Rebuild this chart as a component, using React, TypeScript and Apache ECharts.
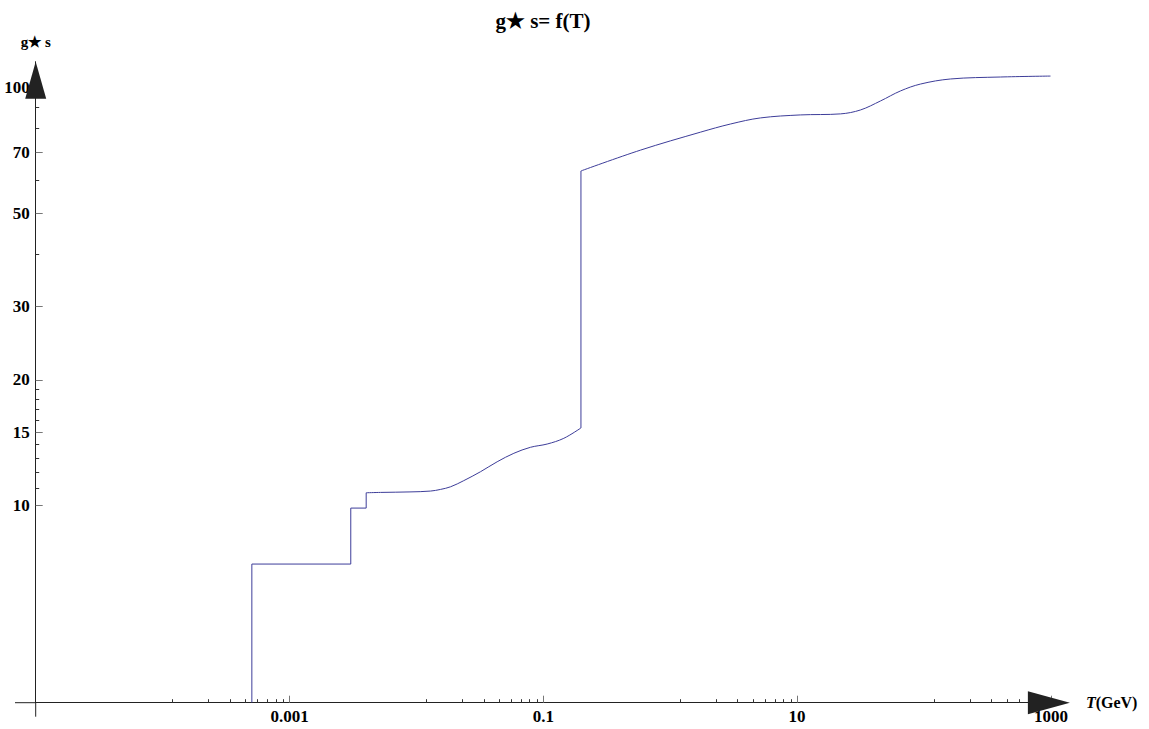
import { useEffect, useRef } from 'react';
import * as echarts from 'echarts';

// ---- texts ----
const chartTitle = 'g★ s= f(T)';
const yAxisName = 'g★ s';

// ---- axes ----
const xRange = [1e-5, 1000];
const yRange = [3.376, 115.6];
const xMajorTicks = [1e-3, 0.1, 10, 1000];
const xTickLabels = ['0.001', '0.1', '10', '1000'];
const xMinorFractions = [0.12, 0.23, 0.34, 0.45, 0.56, 0.67, 0.78, 0.9];
const yMajorTicks = [10, 15, 20, 30, 50, 70, 100];
const yTickLabels = ['10', '15', '20', '30', '50', '70', '100'];
const yMinorTicks = [11, 12, 13, 14, 16, 17, 18, 19, 40, 60, 80, 90];

// ---- data (T in GeV, g*s) ----
const stepT = [5.05e-4, 5.05e-4, 3.04e-3, 3.04e-3, 4.02e-3, 4.02e-3];
const stepG = [3.38, 7.25, 7.25, 9.87, 9.87, 10.74];
const lowT = [4.02e-3, 5.21e-3, 8.9e-3, 0.0129, 0.0155, 0.0186, 0.0236, 0.032, 0.0433, 0.0586, 0.0793, 0.1073, 0.1451, 0.198];
const lowG = [10.74, 10.76, 10.79, 10.84, 10.94, 11.1, 11.48, 12.06, 12.74, 13.35, 13.8, 14.05, 14.5, 15.35];
const jumpT = [0.198, 0.198];
const jumpG = [15.35, 63.3];
const highT = [0.198, 0.583, 1.733, 2.99, 5.15, 10.6, 22.0, 31.6, 45.4, 65.3, 93.8, 161.8, 401, 993];
const highG = [63.3, 71.0, 78.4, 82.0, 84.8, 86.2, 86.7, 88.6, 93.1, 98.4, 102.2, 105.1, 106.25, 106.8];

const W = 1149;
const H = 729;
const GRID_LEFT = 35.7;
const GRID_TOP = 61.7;
const GRID_W = 1015.2;
const GRID_H = 641;
const FONT = "'Liberation Serif', 'Times New Roman', Times, serif";
const LINE_COLOR = '#3d3d99';
const AXIS_COLOR = '#222';

const zip = (xs: number[], ys: number[]) => xs.map((x, i) => [x, ys[i]]);

export default function App() {
  const ref = useRef<HTMLDivElement>(null);
  useEffect(() => {
    if (!ref.current) return;
    const chart = echarts.init(ref.current, undefined, { renderer: 'svg' });
    const xMinor: number[] = [];
    xMajorTicks.forEach((m) => xMinorFractions.forEach((f) => xMinor.push(m * f)));
    const labelStyle = { fontFamily: FONT, fontWeight: 'bold' as const, fontSize: 17, color: '#000' };
    const baseX = {
      type: 'log' as const,
      logBase: 10,
      min: xRange[0],
      max: xRange[1],
      position: 'bottom' as const,
      splitLine: { show: false },
    };
    const baseY = {
      type: 'log' as const,
      logBase: 10,
      min: yRange[0],
      max: yRange[1],
      position: 'left' as const,
      splitLine: { show: false },
    };
    const lineSeries = (name: string, data: number[][], smooth: boolean) => ({
      name,
      type: 'line' as const,
      data,
      xAxisIndex: 0,
      yAxisIndex: 0,
      showSymbol: false,
      symbol: 'none',
      smooth: smooth ? 0.35 : false,
      lineStyle: { color: LINE_COLOR, width: 1 },
      itemStyle: { color: LINE_COLOR },
      clip: true,
    });
    chart.setOption({
      animation: false,
      backgroundColor: '#fff',
      grid: {
        left: GRID_LEFT,
        top: GRID_TOP,
        width: GRID_W,
        height: GRID_H,
        containLabel: false,
        outerBoundsMode: 'none',
      },
      xAxis: [
        {
          ...baseX,
          name: '{i|T}(GeV)',
          nameLocation: 'end',
          nameGap: 35,
          nameTextStyle: {
            fontFamily: FONT,
            fontWeight: 'bold',
            fontSize: 16,
            color: '#000',
            rich: { i: { fontFamily: FONT, fontWeight: 'bold', fontStyle: 'italic', fontSize: 16, color: '#000' } },
          },
          axisLine: {
            show: true,
            lineStyle: { color: AXIS_COLOR, width: 1 },
            symbol: ['none', 'triangle'],
            symbolSize: [23, 42],
            symbolOffset: [0, -2],
          },
          axisTick: { show: true, inside: true, length: 7, lineStyle: { color: '#777' }, customValues: xMajorTicks },
          axisLabel: {
            show: true,
            ...labelStyle,
            margin: 5,
            customValues: xMajorTicks,
            formatter: (v: number) => {
              const i = xMajorTicks.findIndex((m) => Math.abs(Math.log10(m) - Math.log10(v)) < 1e-6);
              return i >= 0 ? xTickLabels[i] : '';
            },
          },
        },
        {
          ...baseX,
          axisLine: { show: false },
          axisTick: { show: true, inside: true, length: 3.5, lineStyle: { color: '#333' }, customValues: xMinor },
          axisLabel: { show: false },
        },
      ],
      yAxis: [
        {
          ...baseY,
          name: yAxisName,
          nameLocation: 'end',
          nameGap: 12,
          nameTextStyle: { fontFamily: FONT, fontWeight: 'bold', fontSize: 15, color: '#000' },
          axisLine: {
            show: true,
            lineStyle: { color: AXIS_COLOR, width: 1 },
            symbol: ['none', 'triangle'],
            symbolSize: [21, 37],
            symbolOffset: [0, -18.5],
          },
          axisTick: { show: true, inside: true, length: 7, lineStyle: { color: '#777' }, customValues: yMajorTicks },
          axisLabel: {
            show: true,
            ...labelStyle,
            margin: 6,
            customValues: yMajorTicks,
            formatter: (v: number) => {
              const i = yMajorTicks.findIndex((m) => Math.abs(m - v) < 1e-6 * m);
              return i >= 0 ? yTickLabels[i] : '';
            },
          },
        },
        {
          ...baseY,
          axisLine: { show: false },
          axisTick: { show: true, inside: true, length: 3.5, lineStyle: { color: '#333' }, customValues: yMinorTicks },
          axisLabel: { show: false },
        },
      ],
      graphic: [
        {
          type: 'text',
          x: 543,
          y: 21,
          silent: true,
          style: {
            text: chartTitle,
            textAlign: 'center',
            textVerticalAlign: 'middle',
            fontFamily: FONT,
            fontWeight: 'bold',
            fontSize: 21,
            fill: '#000',
          },
        },
        {
          type: 'line',
          shape: { x1: 15, y1: GRID_TOP + GRID_H, x2: GRID_LEFT, y2: GRID_TOP + GRID_H },
          style: { stroke: AXIS_COLOR, lineWidth: 1 },
          silent: true,
        },
        {
          type: 'line',
          shape: { x1: GRID_LEFT, y1: GRID_TOP + GRID_H, x2: GRID_LEFT, y2: GRID_TOP + GRID_H + 14 },
          style: { stroke: AXIS_COLOR, lineWidth: 1 },
          silent: true,
        },
      ],
      series: [
        lineSeries('steps', zip(stepT, stepG), false),
        lineSeries('low', zip(lowT, lowG), true),
        lineSeries('jump', zip(jumpT, jumpG), false),
        lineSeries('high', zip(highT, highG), true),
      ],
    });
    return () => chart.dispose();
  }, []);
  return (
    <div
      ref={ref}
      style={{ position: 'fixed', left: 0, top: 0, width: W, height: H, background: '#fff' }}
    />
  );
}
